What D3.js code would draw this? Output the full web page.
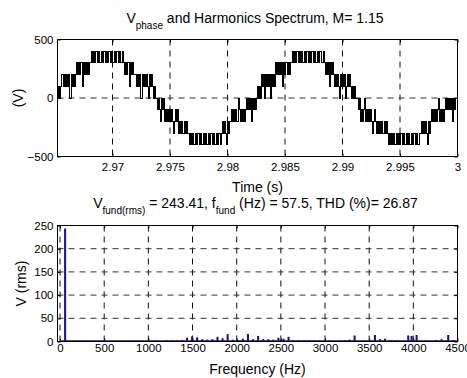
<!DOCTYPE html>
<html>
<head>
<meta charset="utf-8">
<script src="https://cdn.jsdelivr.net/npm/d3@7"></script>
<style>
  body { margin: 0; background: #fff; }
  svg { display: block; font-family: "Liberation Sans", Arial, sans-serif; }
</style>
</head>
<body>
<div id="chart"></div>
<script>
const WIDTH = 467;
const HEIGHT = 378;

// summary numbers shown in the titles
const modIndex = 1.15;
const fFund = 57.5;
const vFundRms = 243.41;
const thd = 26.87;

const LEVEL_STEP = 100;
const levelsPeriod1 = [
  0, 1, 0, 1, 2, 2,
  1, 2, 1, 2, 1, 2, 0, 0, 2, 1, 2, 1,
  2, 3, 2, 3, 2, 3, 3, 1, 3, 2, 3, 2, 3, 2, 3, 3, 4,
  3, 4, 3, 4, 4, 3, 4, 3, 3, 4, 3, 4, 4, 3, 4, 3, 4, 4, 3, 4, 3, 3, 4, 3, 4, 4, 3, 4, 3, 3,
  4, 3, 2, 3, 2, 3, 3, 1, 3, 2, 3, 2, 2,
  2, 1, 2, 1, 2, 0, 0, 2, 1, 2, 1, 2, 1, 0, 2, 1, 2, 1,
  0, 1, 0, 0,
  -1, 0, -1, -2, 0, -1, 0, -2, -1, -2, -1,
  -2, -1, -2, -1, -2, -3, -2, -1, -2, -1,
  -3, -2, -3, -2, -3, -3, -2, -3, -2, -3, -3, -4,
  -3, -4, -3, -4, -4, -3, -4, -3, -3, -4, -3, -4, -4, -3, -4, -3, -4, -4, -3, -4, -3, -3, -4, -3, -4, -4, -3, -4, -3, -3,
  -4, -3, -2, -3, -2, -3, -4, -2, -3, -2,
  -2, -1, -2, -1, -2, -1, -2, -2, 0, -1, -2, -1, -2, -1, -2,
  -1, 0, -1, 0, -1, 0, -2, 0, -1, 0, -1, 0
];
const levelsPeriod2 = [
  1, 0, 1, 0, 2, 1,
  2, 0, 2, 1, 2, 1, 2, 0, 2, 1, 2, 1,
  3, 2, 3, 2, 3, 2, 3, 1, 3, 2, 3, 3, 2, 3, 2, 3, 3,
  4, 3, 4, 3, 4, 4, 3, 4, 3, 4, 3, 3, 4, 3, 4, 4, 3, 4, 3, 4, 4, 3, 4, 3, 3, 4, 3, 4, 4, 3,
  3, 4, 3, 2, 3, 2, 3, 1, 3, 2, 3, 2, 1,
  2, 1, 2, 1, 0, 2, 1, 2, 1, 2, 0, 1, 2, 1, 2, 1, 0, 1,
  0, 1, 0, 0,
  0, -1, 0, -2, -1, -2, -1, 0, -2, -1, -2,
  -1, -2, -1, -2, -3, -2, -1, -2, -3, -2,
  -3, -2, -3, -2, -3, -3, -2, -3, -2, -3, -4, -3,
  -4, -3, -4, -3, -4, -4, -3, -4, -3, -4, -3, -3, -4, -3, -4, -4, -3, -4, -3, -4, -4, -3, -4, -3, -3, -4, -3, -4, -4, -3,
  -3, -2, -3, -2, -3, -2, -3, -4, -2, -3,
  -2, -1, -2, -1, -2, -1, -2, -1, 0, -2, -1, -2, -1, -2, -1,
  0, -1, 0, -1, 0, -1, 0, -2, 0, -1, 0, 0
];
const T_END = 3;
const T_START = T_END - 2 / fFund;
const SAMPLE_DT = (T_END - T_START) / (levelsPeriod1.length + levelsPeriod2.length);

// harmonic spectrum (Hz, V rms)
const specFreq = [
  57.5, 1207.5, 1265, 1380, 1437.5, 1495, 1552.5, 1610, 1667.5, 1725, 1782.5, 1840,
  1897.5, 1955, 2012.5, 2070, 2127.5, 2185, 2242.5, 2300, 2357.5, 2415, 2472.5, 2530,
  2587.5, 2645, 2702.5, 2817.5, 2932.5, 3047.5, 3162.5, 3277.5, 3335, 3507.5, 3565,
  3622.5, 3680, 3795, 3942, 3980, 4037, 4320, 4395, 4450,
  1092.5, 1322.5, 2760, 2875, 3220, 3450, 3737.5, 3852.5, 4140, 4255
];
const specAmp = [
  243.41, 2.5, 2, 3, 8, 11, 9, 5, 4, 5, 10, 7,
  16, 4, 3, 6, 16, 5, 12, 5, 5, 4, 8, 6,
  10, 3, 2, 3, 2, 2, 2, 4, 13, 3, 14,
  5, 6, 3, 13, 12, 14, 5, 14, 3,
  1.5, 2, 2, 2, 2, 2, 3, 2, 2, 3
];

const timeTicks = [2.97, 2.975, 2.98, 2.985, 2.99, 2.995, 3];
const voltTicks = [-500, 0, 500];
const freqTicks = [0, 500, 1000, 1500, 2000, 2500, 3000, 3500, 4000, 4500];
const rmsTicks = [0, 50, 100, 150, 200, 250];

const panelA = { left: 57.5, right: 457.5, top: 39.5, bottom: 156.5 };
const panelB = { left: 57.5, right: 457.5, top: 225.5, bottom: 341.5 };

const svg = d3.select('#chart')
  .append('svg')
  .attr('width', WIDTH)
  .attr('height', HEIGHT);

svg.append('rect').attr('width', WIDTH).attr('height', HEIGHT).attr('fill', '#fff');

const xT = d3.scaleLinear().domain([T_START, T_END]).range([panelA.left, panelA.right]);
const yV = d3.scaleLinear().domain([-500, 500]).range([panelA.bottom, panelA.top]);
const xF = d3.scaleLinear().domain([-28.75, 4500]).range([panelB.left, panelB.right]);
const yR = d3.scaleLinear().domain([0, 250]).range([panelB.bottom, panelB.top]);

function frame(p, xs, ys, xt, yt, xPad, yPad, fmt) {
  const g = svg.append('g');

  // dashed grid
  g.append('g').selectAll('line')
    .data(xt.filter((d) => xs(d) > p.left + 1 && xs(d) < p.right - 1))
    .join('line')
    .attr('x1', (d) => xs(d)).attr('x2', (d) => xs(d))
    .attr('y1', p.top).attr('y2', p.bottom)
    .attr('stroke', '#111').attr('stroke-dasharray', '6,5');
  g.append('g').selectAll('line')
    .data(yt.filter((d) => ys(d) > p.top + 1 && ys(d) < p.bottom - 1))
    .join('line')
    .attr('y1', (d) => ys(d)).attr('y2', (d) => ys(d))
    .attr('x1', p.left).attr('x2', p.right)
    .attr('stroke', '#333').attr('stroke-dasharray', '6,5');

  g.append('g')
    .attr('transform', `translate(0,${p.bottom})`)
    .call(d3.axisBottom(xs).tickValues(xt).tickSize(-3).tickPadding(xPad).tickFormat(fmt));
  g.append('g')
    .attr('transform', `translate(${p.left},0)`)
    .call(d3.axisLeft(ys).tickValues(yt).tickSize(-3).tickPadding(yPad));
  g.append('g')
    .attr('transform', `translate(0,${p.top})`)
    .call(d3.axisTop(xs).tickValues(xt).tickSize(-3).tickFormat(''));
  g.append('g')
    .attr('transform', `translate(${p.right},0)`)
    .call(d3.axisRight(ys).tickValues(yt).tickSize(-3).tickFormat(''));

  g.selectAll('.domain').remove();
  g.selectAll('.tick line').attr('stroke', '#000');
  g.selectAll('.tick text')
    .attr('fill', '#000')
    .style('font-size', '11.5px')
    .style('font-family', '"Liberation Sans", Arial, sans-serif');

  return g;
}

// ---------- top: phase voltage ----------
frame(panelA, xT, yV, timeTicks, voltTicks, 6, 4, (d) => d3.format('')(d));

const waveLevels = levelsPeriod1.concat(levelsPeriod2);
const wavePoints = waveLevels.map((lv, i) => [T_START + i * SAMPLE_DT, lv * LEVEL_STEP]);
wavePoints.push([T_END, waveLevels[waveLevels.length - 1] * LEVEL_STEP]);

svg.append('clipPath').attr('id', 'clipA')
  .append('rect')
  .attr('x', panelA.left).attr('y', panelA.top)
  .attr('width', panelA.right - panelA.left).attr('height', panelA.bottom - panelA.top);

svg.append('path')
  .datum(wavePoints)
  .attr('clip-path', 'url(#clipA)')
  .attr('fill', 'none')
  .attr('stroke', '#000')
  .attr('stroke-width', 1)
  .attr('shape-rendering', 'crispEdges')
  .attr('d', d3.line().x((d) => xT(d[0])).y((d) => yV(d[1])).curve(d3.curveStepAfter));

// ---------- bottom: spectrum ----------
frame(panelB, xF, yR, freqTicks, rmsTicks, 2, 4, (d) => d);

const barColor = '#12128f';
svg.append('line')
  .attr('x1', xF(0)).attr('x2', xF(4500))
  .attr('y1', yR(0) - 0.5).attr('y2', yR(0) - 0.5)
  .attr('stroke', barColor).attr('stroke-width', 1.5);

svg.append('g').selectAll('rect')
  .data(specFreq.map((f, i) => ({ f, v: specAmp[i] })))
  .join('rect')
  .attr('x', (d) => xF(d.f - 11.5))
  .attr('width', (d) => xF(d.f + 11.5) - xF(d.f - 11.5))
  .attr('y', (d) => yR(d.v))
  .attr('height', (d) => yR(0) - yR(d.v))
  .attr('fill', barColor);

// outer boxes
[panelA, panelB].forEach((p) => {
  svg.append('rect')
    .attr('x', p.left).attr('y', p.top)
    .attr('width', p.right - p.left).attr('height', p.bottom - p.top)
    .attr('fill', 'none').attr('stroke', '#000').attr('stroke-width', 1);
});

// ---------- titles and labels ----------
const title1 = svg.append('text')
  .attr('x', 255).attr('y', 23.3)
  .attr('text-anchor', 'middle')
  .style('font-size', '14px');
title1.append('tspan').text('V');
title1.append('tspan').attr('dy', 6).style('font-size', '10px').text('phase');
title1.append('tspan').attr('dy', -6).text(` and Harmonics Spectrum, M= ${modIndex}`);

const title2 = svg.append('text')
  .attr('x', 255.5).attr('y', 207.7)
  .attr('text-anchor', 'middle')
  .style('font-size', '14px');
title2.append('tspan').text('V');
title2.append('tspan').attr('dy', 6).style('font-size', '10px').text('fund(rms)');
title2.append('tspan').attr('dy', -6).text(` = ${vFundRms}, f`);
title2.append('tspan').attr('dy', 6).style('font-size', '10px').text('fund');
title2.append('tspan').attr('dy', -6).text(` (Hz) = ${fFund}, THD (%)= ${thd}`);

svg.append('text')
  .attr('x', (panelA.left + panelA.right) / 2).attr('y', 191.5)
  .attr('text-anchor', 'middle').style('font-size', '14px')
  .text('Time (s)');

svg.append('text')
  .attr('x', (panelB.left + panelB.right) / 2).attr('y', 373.5)
  .attr('text-anchor', 'middle').style('font-size', '14px')
  .text('Frequency (Hz)');

svg.append('text')
  .attr('transform', `translate(23,${(panelA.top + panelA.bottom) / 2}) rotate(-90)`)
  .attr('text-anchor', 'middle').style('font-size', '14px')
  .text('(V)');

svg.append('text')
  .attr('transform', `translate(26,${(panelB.top + panelB.bottom) / 2}) rotate(-90)`)
  .attr('text-anchor', 'middle').style('font-size', '14px')
  .text('V (rms)');
</script>
</body>
</html>
